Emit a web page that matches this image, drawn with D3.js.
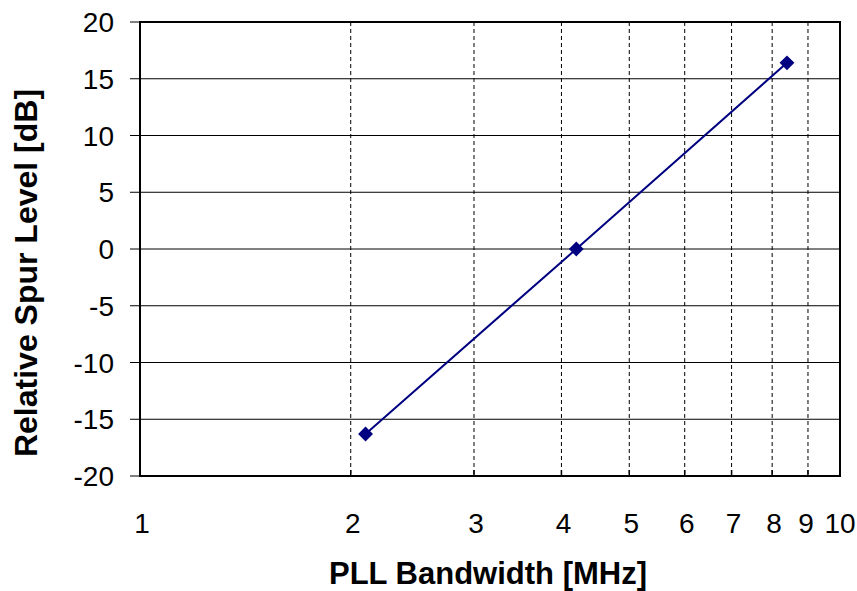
<!DOCTYPE html>
<html>
<head>
<meta charset="utf-8">
<script src="https://cdn.jsdelivr.net/npm/d3@7"></script>
<style>
  body { margin: 0; background: #fff; }
  text { font-family: Arial, "Liberation Sans", sans-serif; fill: #000; }
</style>
</head>
<body>
<svg id="chart" width="857" height="591"></svg>
<script>
// data
var bandwidth = [2.1, 4.2, 8.4]
var spurLevel = [-16.3, 0, 16.4]
var xTicks = [1, 2, 3, 4, 5, 6, 7, 8, 9, 10]
var yTicks = [-20, -15, -10, -5, 0, 5, 10, 15, 20]

var svg = d3.select("#chart")
var m = {left: 140, top: 22, right: 840, bottom: 476}

var x = d3.scaleLog().domain([1, 10]).range([m.left, m.right])
var y = d3.scaleLinear().domain([-20, 20]).range([m.bottom, m.top])

// horizontal grid
svg.append("g")
  .selectAll("line")
  .data(yTicks)
  .join("line")
  .attr("x1", m.left - 10).attr("x2", m.right)
  .attr("y1", d => y(d)).attr("y2", d => y(d))
  .attr("stroke", "#000").attr("stroke-width", 1)

// vertical dashed grid
svg.append("g")
  .selectAll("line")
  .data(xTicks.filter(d => d > 1 && d < 10))
  .join("line")
  .attr("x1", d => x(d)).attr("x2", d => x(d))
  .attr("y1", m.top).attr("y2", m.bottom)
  .attr("stroke", "#000").attr("stroke-width", 1)
  .attr("stroke-dasharray", "4,3")

// small inside ticks on x axis
svg.append("g")
  .selectAll("line")
  .data(xTicks.filter(d => d > 1 && d < 10))
  .join("line")
  .attr("x1", d => x(d)).attr("x2", d => x(d))
  .attr("y1", m.bottom - 6).attr("y2", m.bottom)
  .attr("stroke", "#000").attr("stroke-width", 1.5)

// frame
svg.append("rect")
  .attr("x", m.left).attr("y", m.top)
  .attr("width", m.right - m.left).attr("height", m.bottom - m.top)
  .attr("fill", "none").attr("stroke", "#000").attr("stroke-width", 2)

// y tick labels
svg.append("g")
  .selectAll("text")
  .data(yTicks)
  .join("text")
  .attr("x", 114)
  .attr("y", d => y(d))
  .attr("dy", "0.36em")
  .attr("text-anchor", "end")
  .style("font-size", "28px")
  .text(d => d)

// x tick labels
svg.append("g")
  .selectAll("text")
  .data(xTicks)
  .join("text")
  .attr("x", d => x(d) + (d == 9 ? -2 : d == 10 ? 0 : 2))
  .attr("y", 533)
  .attr("text-anchor", "middle")
  .style("font-size", "28px")
  .text(d => d)

// axis titles
svg.append("text")
  .attr("x", 488).attr("y", 584)
  .attr("text-anchor", "middle")
  .style("font-size", "31px").style("font-weight", "bold")
  .text("PLL Bandwidth [MHz]")

svg.append("text")
  .attr("transform", "translate(37,273) rotate(-90)")
  .attr("text-anchor", "middle")
  .style("font-size", "32px").style("font-weight", "bold")
  .text("Relative Spur Level [dB]")

// series
var pts = bandwidth.map((b, i) => [b, spurLevel[i]])
svg.append("path")
  .datum(pts)
  .attr("fill", "none")
  .attr("stroke", "#000080")
  .attr("stroke-width", 2)
  .attr("d", d3.line().x(d => x(d[0])).y(d => y(d[1])))

svg.append("g")
  .selectAll("path")
  .data(pts)
  .join("path")
  .attr("transform", d => "translate(" + x(d[0]) + "," + y(d[1]) + ")")
  .attr("d", d3.symbol(d3.symbolDiamond2, 140))
  .attr("fill", "#000080")
</script>
</body>
</html>
